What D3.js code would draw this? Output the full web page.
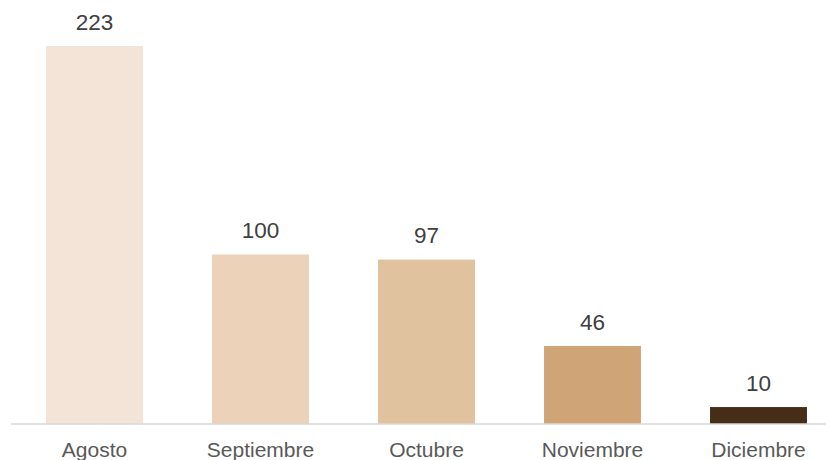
<!DOCTYPE html>
<html><head><meta charset="utf-8">
<script src="https://cdn.jsdelivr.net/npm/d3@7"></script>
<style>html,body{margin:0;padding:0;background:#fff;}svg{display:block;}</style>
</head><body>
<svg id="c" width="826" height="460"></svg>
<script>
const categories = ["Agosto", "Septiembre", "Octubre", "Noviembre", "Diciembre"];
const values = [223, 100, 97, 46, 10];
const colors = ["#F3E4D7", "#EBD2B8", "#E1C29F", "#CFA578", "#462D17"];

const svg = d3.select("#c");
const baseY = 424;
const x = d3.scaleBand().domain(categories).range([11.5, 841.5]).paddingInner(0.416).paddingOuter(0.208);
const y = d3.scaleLinear().domain([0, 223]).range([baseY, 46]);

svg.selectAll("rect.bar").data(values).enter().append("rect")
  .attr("class", "bar")
  .attr("x", (d, i) => x(categories[i]))
  .attr("width", x.bandwidth())
  .attr("y", d => y(d))
  .attr("height", d => baseY - y(d))
  .attr("fill", (d, i) => colors[i]);

svg.append("line").attr("x1", 11).attr("x2", 826).attr("y1", baseY).attr("y2", baseY)
  .attr("stroke", "#D9D9D9").attr("stroke-width", 1.5);

svg.selectAll("text.val").data(values).enter().append("text")
  .attr("class", "val")
  .attr("x", (d, i) => x(categories[i]) + x.bandwidth() / 2)
  .attr("y", d => y(d) - 16.5)
  .attr("text-anchor", "middle")
  .attr("font-family", "Liberation Sans, Arial, sans-serif")
  .attr("font-size", 22.5)
  .attr("fill", "#404040")
  .text(d => d);

const xAxis = d3.axisBottom(x).tickSize(0).tickPadding(0);
const g = svg.append("g").attr("transform", `translate(0,${baseY})`).call(xAxis);
g.select(".domain").remove();
g.selectAll("text")
  .attr("y", 33)
  .attr("dy", 0)
  .attr("font-family", "Liberation Sans, Arial, sans-serif")
  .attr("font-size", 21)
  .attr("fill", "#595959");
</script>
</body></html>
